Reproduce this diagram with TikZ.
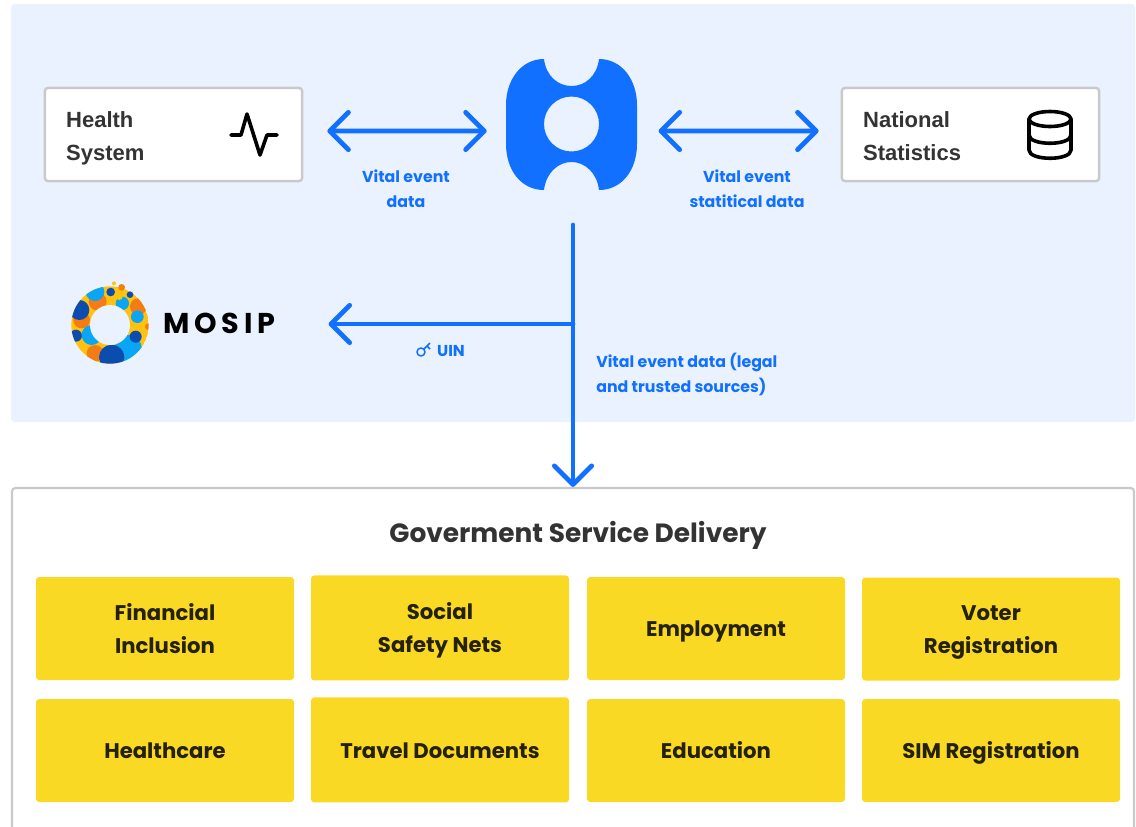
\documentclass[tikz,border=0pt]{standalone}
\usepackage{fontspec}
\setmainfont{Poppins}
\newfontfamily\boxfont{Liberation Sans}
\newfontfamily\brandfont[LetterSpace=17]{Poppins}
\usetikzlibrary{arrows.meta,positioning}
\definecolor{panelblue}{HTML}{EBF2FF}
\definecolor{flowblue}{HTML}{1170FF}
\definecolor{cardyellow}{HTML}{F9D923}
\definecolor{edgegrey}{HTML}{C9C9C9}
\definecolor{inkgrey}{HTML}{333333}
\definecolor{logoyellow}{HTML}{FFC20E}
\definecolor{logoorange}{HTML}{F57C12}
\definecolor{logosky}{HTML}{0AA5F5}
\definecolor{logonavy}{HTML}{0B4DAE}
\newcommand{\boxtop}{\rule{0pt}{21.3pt}}
\newcommand{\cardtop}{\rule{0pt}{19.6pt}}
\tikzstyle{sysbox} = [draw=edgegrey, fill=white, line width=1.8pt, rounded corners=2.5pt,
    minimum width=193pt, minimum height=70pt, text width=161pt, inner xsep=16pt,
    align=left, text=inkgrey, font=\boxfont\bfseries\fontsize{16.5}{24.75}\selectfont]
\tikzstyle{card} = [fill=cardyellow, rounded corners=2.5pt, minimum width=193.5pt,
    minimum height=77.25pt, align=center, text=black!85!cardyellow,
    font=\bfseries\fontsize{15.9}{24.75}\selectfont]
\tikzstyle{flowtext} = [text=flowblue, align=center,
    font=\bfseries\fontsize{11.85}{18.75}\selectfont]
\tikzstyle{flow} = [draw=flowblue, line width=3.6pt, line cap=round, line join=round]
\tikzset{barb/.tip={Straight Barb[length=14pt, width=28pt, line width=3.6pt, round]}}
\tikzstyle{icon} = [black, line width=2.7pt, line cap=round, line join=round]

\begin{document}
\begin{tikzpicture}[x=0.75pt, y=-0.75pt]
  \useasboundingbox (0,0) rectangle (1136,826);
  \clip (0,0) rectangle (1136,826);
  \fill [panelblue, rounded corners=2.5pt] (11,4) rectangle (1135,422);

  % upper row
  \node [minimum width=98.25pt, minimum height=99pt, inner sep=0pt] (blob) at (571.5,124) {};
  \fill [flowblue, even odd rule] (544,59)
    .. controls (546,76) and (558,86) .. (571.5,86)
    .. controls (585,86) and (597,76) .. (599,59)
    .. controls (622,59) and (637,80) .. (637,105) -- (637,144)
    .. controls (637,170) and (622,190) .. (599,190)
    .. controls (597,173) and (585,162) .. (571.5,162)
    .. controls (558,162) and (546,173) .. (544,190)
    .. controls (521,190) and (506,170) .. (506,144) -- (506,105)
    .. controls (506,80) and (521,59) .. (544,59) -- cycle
    (571.5,124) circle [radius=27.5];
  \node [sysbox] (health) at (173.5,134.5) {Health\boxtop\\System\strut};
  \node [sysbox, right of=health, node distance=597.75pt] (natstat) {National\boxtop\\Statistics\strut};
  \draw [icon] (231,135) -- (241,135) -- (247,114) -- (260,155) -- (267,135) -- (277,135);
  \draw [icon] (1050,119) ellipse [x radius=21, y radius=7.5];
  \draw [icon] (1029,119) -- (1029,150) .. controls (1029,161) and (1071,161) .. (1071,150) -- (1071,119);
  \draw [icon] (1029,135) .. controls (1029,146) and (1071,146) .. (1071,135);

  % mosip logo
  \begin{scope}[shift={(50,270)}, x=0.25pt, y=-0.25pt]
    \begin{scope}
      \clip (180,165) circle [radius=116];
      \fill [logoyellow] (180,165) circle [radius=116];
      \foreach \px/\py/\pr/\pc in {95/150/25/logoorange, 143/95/27/logoorange,
          135/65/28/logosky, 88/120/30/logonavy, 78/197/18/logonavy,
          125/195/30/logosky, 135/250/25/logoorange, 235/235/40/logosky,
          185/262/38/logonavy, 257/200/18/logonavy, 265/110/25/logoorange,
          262/140/19/logosky, 295/170/10/logoorange, 217/100/20/logosky,
          183/95/12/logoyellow}
        \fill [\pc] (\px,\py) circle [radius=\pr];
    \end{scope}
    \fill [panelblue] (180,165) circle [radius=60];
    \foreach \px/\py/\pr/\pc in {192/40/6/logoyellow, 215/52/10/logoorange,
        182/66/13/logonavy, 240/74/10/logonavy, 208/80/10/logoyellow}
      \fill [\pc] (\px,\py) circle [radius=\pr];
  \end{scope}
  \node [anchor=west, inner sep=0pt, text=black, font=\brandfont\bfseries\fontsize{21.5}{24}\selectfont]
    (mosip) at (163,323) {MOSIP};
  \node [inner sep=0pt, minimum width=1pt, minimum height=60pt] (mosipedge) at (309,324) {};

  % lower panel
  \node [draw=edgegrey, fill=white, line width=1.6pt, rounded corners=2.5pt, minimum width=841.5pt,
    minimum height=264pt, inner sep=0pt] (gov) at (573,664) {};
  \node [text=inkgrey, font=\bfseries\fontsize{19.8}{24}\selectfont] (govtitle) at (578,535)
    {Goverment Service Delivery};
  \node [card] (fin) at (165,628.5) {Financial\cardtop\\Inclusion\strut};
  \node [card, minimum height=78.75pt, right of=fin, node distance=206.25pt, yshift=0.4pt] (safety) {Social\cardtop\\Safety Nets\strut};
  \node [card, right of=fin, node distance=413.25pt] (employ) {Employment\cardtop\strut};
  \node [card, right of=fin, node distance=619.5pt, yshift=-0.4pt] (voter) {Voter\cardtop\\Registration\strut};
  \node [card, below of=fin, node distance=91.5pt] (care) {Healthcare\cardtop\strut};
  \node [card, minimum height=78.75pt, right of=care, node distance=206.25pt, yshift=0.4pt] (travel) {Travel Documents\cardtop\strut};
  \node [card, right of=care, node distance=413.25pt] (edu) {Education\cardtop\strut};
  \node [card, right of=care, node distance=619.5pt] (sim) {SIM Registration\cardtop\strut};

  % labels
  \node [flowtext] (evdata) at (406,189.5) {Vital event\strut\\data\strut};
  \node [flowtext] (evstats) at (747,189.5) {Vital event\strut\\statitical data\strut};
  \node [flowtext, align=left, anchor=west, inner sep=0pt] (evlegal) at (596,375)
    {Vital event data (legal\strut\\and trusted sources)\strut};
  \node [flowtext] (uin) at (451,351) {UIN\strut};
  \draw [flowblue, line width=1.1pt] (421,352) circle [radius=4] (424,349) -- (430,343) (427,346) -- (430,349);

  % connectors
  \coordinate (hub) at (573,324);
  \draw [flow, {barb}-{barb}, shorten <=18pt, shorten >=14.25pt] ([yshift=2.6pt]health.east) -- ([yshift=-5.25pt]blob.west);
  \draw [flow, {barb}-{barb}, shorten <=16pt, shorten >=16.5pt] ([yshift=-5.25pt]blob.east) -- ([yshift=2.6pt]natstat.west);
  \draw [flow, shorten <=26pt, -{barb}] (hub |- blob.south) -- (hub |- gov.north);
  \draw [flow, -{barb}, shorten >=14pt] (hub) -- (hub -| mosipedge.east);
\end{tikzpicture}
\end{document}
